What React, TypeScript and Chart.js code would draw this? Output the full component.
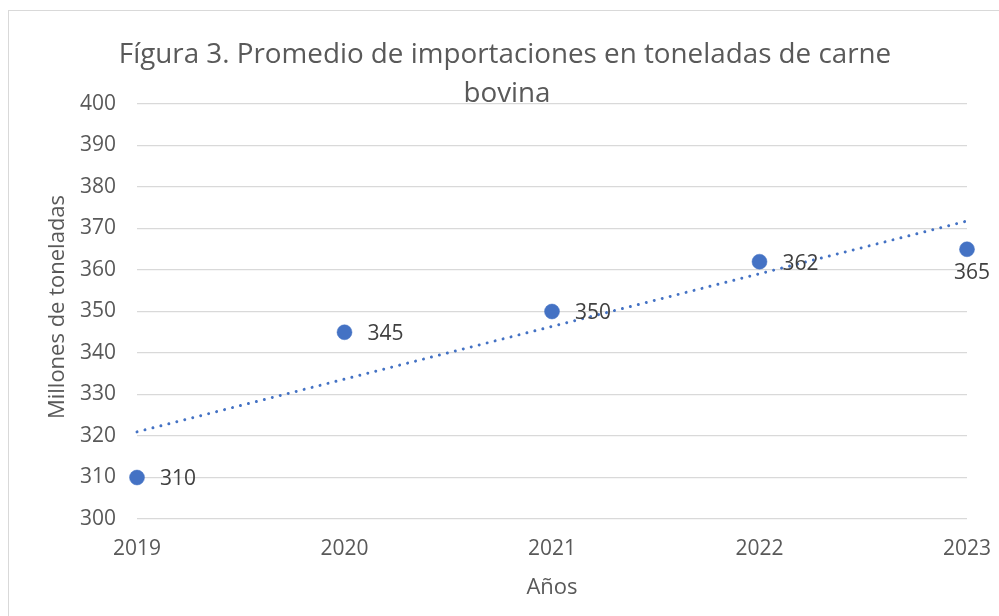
import React, { useEffect, useRef } from "react";
import { Chart, registerables } from "chart.js";

Chart.register(...registerables);

const years = [2019, 2020, 2021, 2022, 2023];
const values = [310, 345, 350, 362, 365];
const yMin = 300;
const yMax = 400;
const yStep = 10;
const titleLines = ["Fígura 3. Promedio de importaciones en toneladas de carne", "bovina"];
const xAxisTitle = "Años";
const yAxisTitle = "Millones de toneladas";

const FONT = "'Open Sans', 'Liberation Sans', sans-serif";
const BLUE = "#4472C4";
const TEXT = "#595959";
const GRID = "#D9D9D9";

function linearFit(xs: number[], ys: number[]) {
  const n = xs.length;
  const mx = xs.reduce((a, b) => a + b, 0) / n;
  const my = ys.reduce((a, b) => a + b, 0) / n;
  let num = 0;
  let den = 0;
  for (let i = 0; i < n; i++) {
    num += (xs[i] - mx) * (ys[i] - my);
    den += (xs[i] - mx) * (xs[i] - mx);
  }
  const slope = num / den;
  return (x: number) => my + slope * (x - mx);
}

const decorPlugin = {
  id: "decor",
  beforeDraw(chart: any) {
    const ctx = chart.ctx;
    ctx.save();
    ctx.fillStyle = "#ffffff";
    ctx.fillRect(0, 0, chart.width, chart.height);
    ctx.strokeStyle = GRID;
    ctx.lineWidth = 1;
    ctx.strokeRect(8.5, 10.5, chart.width + 20, chart.height + 20);
    ctx.restore();
  },
  afterDraw(chart: any) {
    const ctx = chart.ctx;
    const area = chart.chartArea;
    ctx.save();
    // title
    ctx.fillStyle = TEXT;
    ctx.textAlign = "center";
    ctx.textBaseline = "alphabetic";
    ctx.font = `27.8px ${FONT}`;
    ctx.fillText(titleLines[0], 505, 63);
    ctx.fillText(titleLines[1], 507, 102);
    // x axis title
    ctx.font = `22px ${FONT}`;
    ctx.textBaseline = "middle";
    ctx.fillText(xAxisTitle, (area.left + area.right) / 2, 588);
    // y axis title
    ctx.save();
    ctx.translate(58, 307);
    ctx.rotate(-Math.PI / 2);
    ctx.fillText(yAxisTitle, 0, 0);
    ctx.restore();
    // data labels
    const meta = chart.getDatasetMeta(0);
    ctx.fillStyle = "#404040";
    ctx.font = `21px ${FONT}`;
    meta.data.forEach((pt: any, i: number) => {
      const label = String(values[i]);
      if (i === values.length - 1) {
        ctx.textAlign = "center";
        ctx.fillText(label, pt.x + 5, pt.y + 24);
      } else {
        ctx.textAlign = "left";
        ctx.fillText(label, pt.x + 23, pt.y + 2);
      }
    });
    ctx.restore();
  },
};

export default function App() {
  const ref = useRef<HTMLCanvasElement | null>(null);

  useEffect(() => {
    if (!ref.current) return;
    const trend = linearFit(years, values);
    const first = years[0];
    const last = years[years.length - 1];
    const chart = new Chart(ref.current, {
      type: "scatter",
      data: {
        datasets: [
          {
            label: "Importaciones",
            data: years.map((y, i) => ({ x: y, y: values[i] })),
            backgroundColor: BLUE,
            borderColor: BLUE,
            pointRadius: 7.5,
            pointBorderWidth: 0.5,
            clip: false,
            order: 0,
          } as any,
          {
            type: "line",
            label: "Tendencia",
            data: [
              { x: first, y: trend(first) },
              { x: last, y: trend(last) },
            ],
            borderColor: BLUE,
            borderWidth: 3,
            borderDash: [0.01, 8.2],
            borderCapStyle: "round",
            pointRadius: 0,
            fill: false,
            clip: false,
            order: 1,
          } as any,
        ],
      },
      options: {
        responsive: false,
        animation: false,
        devicePixelRatio: 1,
        layout: { padding: { top: 104, right: 32, bottom: 0, left: 0 } },
        plugins: {
          legend: { display: false },
          title: { display: false },
          tooltip: { enabled: false },
        },
        scales: {
          x: {
            type: "linear",
            min: first,
            max: last,
            grid: { display: false, drawTicks: false },
            border: { display: false },
            ticks: {
              stepSize: 1,
              padding: 17,
              color: TEXT,
              font: { family: FONT, size: 21 },
              callback: (v: any) => String(v),
            },
            afterFit: (s: any) => {
              s.height = 97;
              s.paddingLeft = 0;
              s.paddingRight = 0;
            },
          },
          y: {
            min: yMin,
            max: yMax,
            grid: { color: GRID, lineWidth: 1.3, drawTicks: false },
            border: { display: false },
            ticks: {
              stepSize: yStep,
              padding: 21,
              color: TEXT,
              font: { family: FONT, size: 21 },
            },
            afterFit: (s: any) => {
              s.width = 137;
              s.paddingTop = 0;
              s.paddingBottom = 0;
            },
          },
        },
      },
      plugins: [decorPlugin],
    });
    return () => chart.destroy();
  }, []);

  return (
    <div style={{ position: "fixed", left: 0, top: 0, width: 999, height: 616, background: "#fff" }}>
      <canvas ref={ref} width={999} height={616} style={{ display: "block" }} />
    </div>
  );
}
